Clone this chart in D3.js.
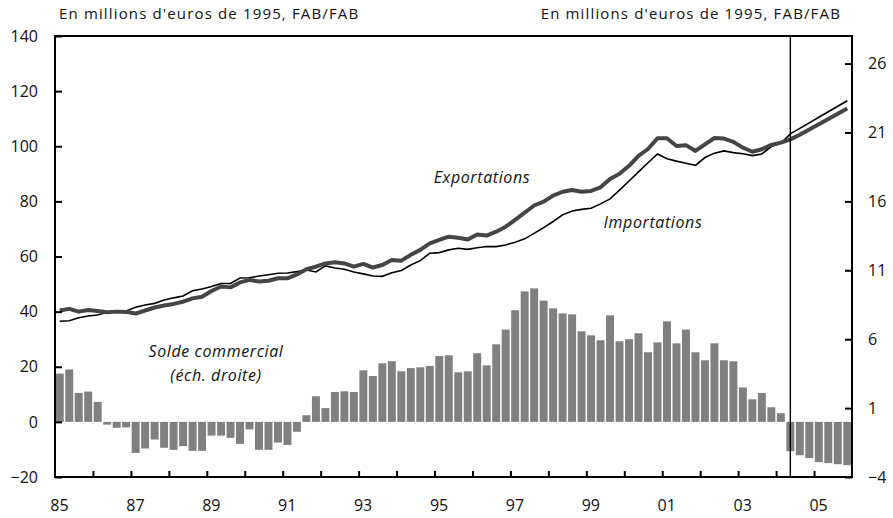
<!DOCTYPE html>
<html>
<head>
<meta charset="utf-8">
<script src="https://cdn.jsdelivr.net/npm/d3@7"></script>
<style>
  body { margin: 0; background: #fff; }
  svg text { font-family: "Open Sans", Lato, sans-serif; fill: #111; }
</style>
</head>
<body>
<div id="viz"></div>
<script>
// Quarterly data, 1985Q1 .. 2005Q4 (forecast from 2004Q2)
const years = ["85", "87", "89", "91", "93", "95", "97", "99", "01", "03", "05"];
const leftTicks = [-20, 0, 20, 40, 60, 80, 100, 120, 140];
const rightTicks = [-4, 1, 6, 11, 16, 21, 26];

const exportations = [
  40.4, 41.0, 40.0, 40.6, 40.2, 39.8, 40.0, 39.9, 39.3, 40.4,
  41.5, 42.2, 42.8, 43.6, 44.8, 45.4, 47.5, 49.1, 48.8, 50.6,
  51.5, 50.9, 51.2, 52.1, 52.1, 53.5, 55.4, 56.3, 57.5, 57.9,
  57.5, 56.3, 57.3, 56.0, 56.9, 58.7, 58.5, 60.6, 62.4, 64.8,
  66.0, 67.2, 66.8, 66.2, 68.0, 67.6, 69.0, 70.8, 73.3, 75.9,
  78.5, 79.9, 82.1, 83.5, 84.1, 83.5, 83.8, 85.1, 88.1, 90.0,
  92.9, 96.5, 99.0, 102.9, 102.9, 100.1, 100.4, 98.3, 100.7, 103.0,
  102.8, 101.6, 99.5, 98.0, 98.9, 100.5, 101.3, 102.5, 104.2, 106.1,
  108.0, 109.9, 111.8, 113.7
];

const importations = [
  36.5, 36.7, 37.8, 38.4, 38.8, 39.8, 40.2, 40.2, 41.6, 42.4,
  43.0, 44.2, 45.0, 45.7, 47.6, 48.2, 49.1, 50.2, 50.2, 52.2,
  52.3, 52.9, 53.4, 53.9, 54.0, 54.5, 55.1, 54.4, 56.6, 55.8,
  55.4, 54.4, 53.7, 52.9, 52.8, 54.1, 54.9, 56.9, 58.5, 61.2,
  61.4, 62.4, 63.0, 62.6, 63.2, 63.6, 63.6, 64.2, 65.2, 66.4,
  68.4, 70.5, 72.7, 75.1, 76.5, 77.1, 77.5, 79.1, 80.9, 84.1,
  87.4, 90.7, 94.0, 97.2, 95.5, 94.6, 93.8, 93.1, 95.9, 97.5,
  98.3, 97.7, 97.3, 96.6, 97.2, 99.9, 101.1, 104.5, 106.5, 108.5,
  110.5, 112.5, 114.5, 116.5
];

// Solde commercial (right scale)
const solde = [
  3.5, 3.8, 2.1, 2.2, 1.45, -0.2, -0.43, -0.4, -2.25, -1.93,
  -1.28, -1.88, -2.03, -1.76, -2.1, -2.1, -1.0, -1.0, -1.16, -1.6,
  -0.55, -2.03, -2.03, -1.5, -1.67, -0.72, 0.48, 1.86, 1.0, 2.17,
  2.22, 2.17, 3.74, 3.33, 4.25, 4.4, 3.67, 3.9, 3.96, 4.06,
  4.78, 4.83, 3.6, 3.67, 4.98, 4.1, 5.63, 6.7, 8.1, 9.47,
  9.69, 8.8, 8.24, 7.87, 7.8, 6.57, 6.28, 5.92, 7.73, 5.85,
  6.0, 6.43, 5.05, 5.77, 7.3, 5.7, 6.7, 5.05, 4.47, 5.7,
  4.47, 4.4, 2.5, 1.64, 2.1, 1.06, 0.63, -2.13, -2.42, -2.63,
  -2.92, -2.99, -3.07, -3.14
];

const forecastStart = 77; // index of 2004Q2

const width = 893;
const height = 518;
const margin = { top: 36, right: 41, bottom: 41, left: 55 };
const innerW = width - margin.left - margin.right;
const innerH = height - margin.top - margin.bottom;

const svg = d3.select("#viz")
    .append("svg")
    .attr("width", width)
    .attr("height", height);

const g = svg.append("g")
    .attr("transform", `translate(${margin.left},${margin.top})`);

// Scales
const quarters = d3.range(solde.length);
const x = d3.scaleBand()
    .domain(quarters)
    .range([0, innerW])
    .paddingInner(0.16)
    .paddingOuter(0.08);
const xYear = d3.scaleLinear()
    .domain([1985, 2006])
    .range([0, innerW]);
const yLeft = d3.scaleLinear().domain([-20, 140]).range([innerH, 0]);
const yRight = d3.scaleLinear().domain([-4, 28]).range([innerH, 0]);
const cx = i => x(i) + x.bandwidth() / 2;

// Bars: solde commercial
g.selectAll("rect.bar")
    .data(solde)
    .enter()
    .append("rect")
    .attr("class", "bar")
    .attr("x", (d, i) => x(i))
    .attr("width", x.bandwidth())
    .attr("y", d => yRight(Math.max(0, d)))
    .attr("height", d => Math.abs(yRight(d) - yRight(0)))
    .style("fill", "#808080");

// Lines
const line = d3.line()
    .x((d, i) => cx(i))
    .y(d => yLeft(d));

g.append("path")
    .datum(importations)
    .attr("d", line)
    .style("fill", "none")
    .style("stroke", "#000")
    .style("stroke-width", 1.6);

g.append("path")
    .datum(exportations)
    .attr("d", line)
    .style("fill", "none")
    .style("stroke", "#454545")
    .style("stroke-width", 4)
    .style("stroke-linejoin", "round");

// Forecast separator
g.append("line")
    .attr("x1", cx(forecastStart))
    .attr("x2", cx(forecastStart))
    .attr("y1", 0)
    .attr("y2", innerH)
    .style("stroke", "#000")
    .style("stroke-width", 1.4);

// Frame
g.append("rect")
    .attr("width", innerW)
    .attr("height", innerH)
    .style("fill", "none")
    .style("stroke", "#000")
    .style("stroke-width", 2);

// Left axis (ticks inside)
const leftAxis = g.append("g")
    .call(d3.axisLeft(yLeft).tickValues(leftTicks).tickSize(-7).tickPadding(17));
// Right axis (ticks inside)
const rightAxis = g.append("g")
    .attr("transform", `translate(${innerW},0)`)
    .call(d3.axisRight(yRight).tickValues(rightTicks).tickSize(-7).tickPadding(16));
// Bottom axis: tick for each year, inside
const bottomAxis = g.append("g")
    .attr("transform", `translate(0,${innerH})`)
    .call(d3.axisBottom(xYear).tickValues(d3.range(1986, 2006)).tickSize(-6).tickFormat(""));

[leftAxis, rightAxis, bottomAxis].forEach(a => {
    a.select(".domain").remove();
    a.selectAll(".tick line").style("stroke", "#000").style("stroke-width", 2);
    a.selectAll("text").style("font-size", "16px").style("fill", "#111");
});

// Year labels (centered on first quarter of the year)
g.selectAll("text.year")
    .data(years)
    .enter()
    .append("text")
    .attr("class", "year")
    .attr("x", d => xYear(+d < 50 ? 2000 + +d : 1900 + +d) + 4.5)
    .attr("y", innerH + 34)
    .attr("text-anchor", "middle")
    .style("font-size", "16px")
    .text(d => d);

// Unit captions
svg.append("text")
    .attr("x", 59)
    .attr("y", 19)
    .style("font-size", "15px")
    .style("letter-spacing", "1.15px")
    .text("En millions d'euros de 1995, FAB/FAB");
svg.append("text")
    .attr("x", 841)
    .attr("y", 19)
    .attr("text-anchor", "end")
    .style("font-size", "15px")
    .style("letter-spacing", "1.15px")
    .text("En millions d'euros de 1995, FAB/FAB");

// Series annotations
const notes = [
    { t: "Exportations", x: 482, y: 183 },
    { t: "Importations", x: 653, y: 228 },
    { t: "Solde commercial", x: 216, y: 357 },
    { t: "(éch. droite)", x: 216, y: 381 }
];
svg.selectAll("text.note")
    .data(notes)
    .enter()
    .append("text")
    .attr("class", "note")
    .attr("x", d => d.x)
    .attr("y", d => d.y)
    .attr("text-anchor", "middle")
    .style("font-size", "16px")
    .style("letter-spacing", "0.6px")
    .style("font-style", "italic")
    .text(d => d.t);
</script>
</body>
</html>
